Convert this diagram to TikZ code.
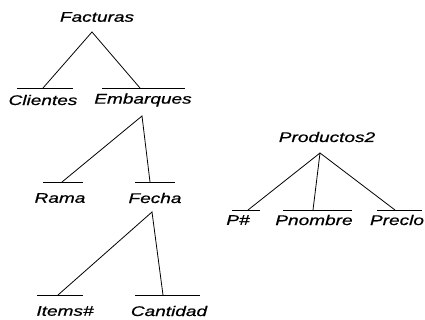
\documentclass[tikz,border=0pt]{standalone}
\usepackage{fontspec}
\setmainfont[FakeStretch=1.36,FakeBold=0.6]{Liberation Sans}
\begin{document}
\begin{tikzpicture}[x=1pt,y=-1pt,
  lbl/.style={inner sep=0pt,font=\fontsize{14}{14}\selectfont\itshape},
  bar/.style={line width=0.7pt},
  edge/.style={line width=0.8pt}]
\useasboundingbox[fill=white] (0,0) rectangle (425,320);
% labels
\node[lbl] (fac) at (97,17) {Facturas};
\node[lbl] (cli) at (43,100) {Clientes};
\node[lbl] (emb) at (143,100) {Embarques};
\node[lbl] (ram) at (60,198) {Rama};
\node[lbl] (fec) at (155,198) {Fecha};
\node[lbl] (ite) at (65,311) {Items\#};
\node[lbl] (can) at (169,311) {Cantidad};
\node[lbl] (pro) at (327,137) {Productos2};
\node[lbl] (pn) at (238,220) {P\#};
\node[lbl] (pno) at (314,220) {Pnombre};
\node[lbl] (pre) at (397,220) {Preclo};
% apexes
\coordinate (afac) at (92,32);
\coordinate (aemb) at (142,116);
\coordinate (afec) at (152,212);
\coordinate (apro) at (320,153);
% bars
\draw[bar] (17,88) -- (73,88);
\draw[bar] (102,88) -- (185,88);
\draw[bar] (43,182) -- (83,182);
\draw[bar] (135,182) -- (175,182);
\draw[bar] (37,295) -- (83,295);
\draw[bar] (135,295) -- (200,295);
\draw[bar] (232,210) -- (260,210);
\draw[bar] (283,210) -- (352,210);
\draw[bar] (377,210) -- (422,210);
% attachment points
\coordinate (bcli) at (43,88);
\coordinate (bemb) at (140,88);
\coordinate (bram) at (62,182);
\coordinate (bfec) at (150,182);
\coordinate (bite) at (58,295);
\coordinate (bcan) at (163,295);
\coordinate (bpn) at (248,210);
\coordinate (bpno) at (313,210);
\coordinate (bpre) at (395,210);
% connectors
\draw[edge] (bcli) -- (afac) -- (bemb);
\draw[edge] (bram) -- (aemb) -- (bfec);
\draw[edge] (bite) -- (afec) -- (bcan);
\draw[edge] (bpn) -- (apro) -- (bpre);
\draw[edge] (apro) -- (bpno);
\end{tikzpicture}
\end{document}
